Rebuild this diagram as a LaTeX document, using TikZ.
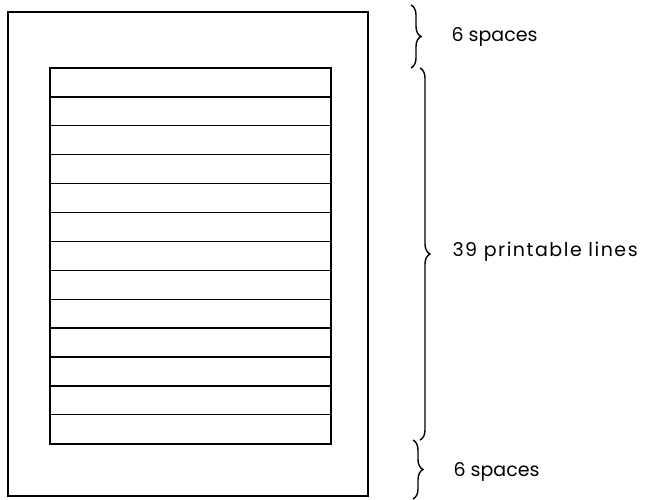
\documentclass[tikz,border=0pt]{standalone}
\usepackage{fontspec}
\setmainfont{Poppins}
\usetikzlibrary{decorations.pathreplacing}
\begin{document}
\begin{tikzpicture}[x=1pt,y=-1pt,
  pagebox/.style={line width=1.5pt},
  linebox/.style={line width=1.3pt},
  curly/.style={line width=1.4pt,decorate,decoration={brace,amplitude=10pt}},
  spanlabel/.style={anchor=west,font=\fontsize{19}{22}\selectfont}]
\useasboundingbox (0,0) rectangle (650,499);

% sheet and print area
\draw[pagebox] (8,12) rectangle (368,496);
\draw[linebox] (50,68) rectangle (331,444);
\foreach \k in {1,...,12}
  \draw[linebox] (50,68+\k*28.9) -- (331,68+\k*28.9);

% braces
\draw[curly] (411,5) -- (411,68);
\draw[curly] (420,68) -- (420,440);
\draw[curly] (413,440) -- (413,499);

\node[spanlabel] (topgap) at (448,37) {6 spaces};
\node[spanlabel] (printarea) at (449,252) {\addfontfeatures{LetterSpace=8}39 printable lines};
\node[spanlabel] (botgap) at (450,472) {6 spaces};
\end{tikzpicture}
\end{document}
